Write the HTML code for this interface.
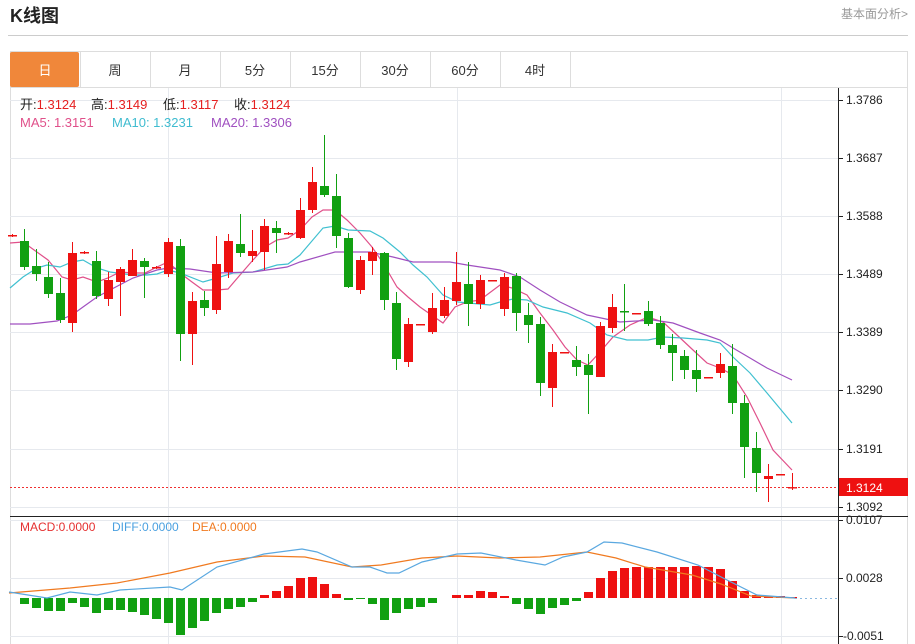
<!DOCTYPE html>
<html><head><meta charset="utf-8"><style>
html,body{margin:0;padding:0;background:#fff;width:915px;height:644px;overflow:hidden;font-family:"Liberation Sans","Noto Sans CJK SC",sans-serif;}
#svg{position:absolute;left:0;top:0}
</style></head><body>
<svg id="svg" width="915" height="644" xmlns="http://www.w3.org/2000/svg" font-family="Liberation Sans, Noto Sans CJK SC, sans-serif">
<text x="10" y="22" font-size="18" font-weight="bold" fill="#222">K线图</text>
<text x="908" y="18" font-size="12" fill="#999" text-anchor="end">基本面分析&gt;</text>
<line x1="8" y1="35.5" x2="908" y2="35.5" stroke="#ccc"/>
<rect x="10.5" y="51.5" width="897" height="600" fill="none" stroke="#ddd"/>
<line x1="10" y1="87.5" x2="908" y2="87.5" stroke="#ddd"/>
<rect x="10" y="52" width="69" height="35" rx="2" fill="#f0873a"/>
<g id="tabs" font-size="13" text-anchor="middle" fill="#333"></g>
<g id="grid"></g>
<g id="ma"></g>
<g id="candles"></g>
<g id="macd"></g>
<line x1="838.5" y1="88" x2="838.5" y2="644" stroke="#222"/>
<line x1="10" y1="516.5" x2="908" y2="516.5" stroke="#222"/>
<line x1="10" y1="487.5" x2="838" y2="487.5" stroke="#f03030" stroke-dasharray="2,2"/>
<rect x="839" y="478" width="69" height="18" fill="#ee1111"/>
<text x="846" y="492" font-size="12" fill="#fff">1.3124</text>
<g id="axis" font-size="12" fill="#222"></g>
<g font-size="13">
<text x="20" y="109"><tspan fill="#222">开:</tspan><tspan fill="#e52020">1.3124</tspan></text>
<text x="91" y="109"><tspan fill="#222">高:</tspan><tspan fill="#e52020">1.3149</tspan></text>
<text x="163" y="109"><tspan fill="#222">低:</tspan><tspan fill="#e52020">1.3117</tspan></text>
<text x="234" y="109"><tspan fill="#222">收:</tspan><tspan fill="#e52020">1.3124</tspan></text>
<text x="20" y="127" fill="#e0508a">MA5: 1.3151</text>
<text x="112" y="127" fill="#40bcd0">MA10: 1.3231</text>
<text x="211" y="127" fill="#a050c0">MA20: 1.3306</text>
</g>
<g font-size="12">
<text x="20" y="531" fill="#e53030">MACD:0.0000</text>
<text x="112" y="531" fill="#4aa0e0">DIFF:0.0000</text>
<text x="192" y="531" fill="#f07a20">DEA:0.0000</text>
</g>
</svg>
<script>
const NS="http://www.w3.org/2000/svg";
function el(p,t,a,txt){const e=document.createElementNS(NS,t);for(const k in a)e.setAttribute(k,a[k]);if(txt!==undefined)e.textContent=txt;document.getElementById(p).appendChild(e);return e;}
const tabs=["日","周","月","5分","15分","30分","60分","4时"];
tabs.forEach((t,i)=>{const x=10+70*i;el("tabs","text",{x:x+35,y:75,fill:i==0?"#fff":"#333"},t);if(i>0)el("tabs","line",{x1:x+0.5,y1:52,x2:x+0.5,y2:87,stroke:"#ddd"});});
el("tabs","line",{x1:570.5,y1:52,x2:570.5,y2:87,stroke:"#ddd"});
[100,158,216,274,332,390,449,507,520,578,636].forEach(y=>el("grid","line",{x1:10,y1:y+.5,x2:838,y2:y+.5,stroke:"#e6e9ee"}));
[168,457,781].forEach(x=>el("grid","line",{x1:x+.5,y1:88,x2:x+.5,y2:644,stroke:"#e6e9ee"}));
[["1.3786",100],["1.3687",158],["1.3588",216],["1.3489",274],["1.3389",332],["1.3290",390],["1.3191",449],["1.3092",507]].forEach(([t,y])=>{el("axis","line",{x1:838,y1:y+.5,x2:843,y2:y+.5,stroke:"#222"});el("axis","text",{x:846,y:y+4},t);});
[["0.0107",520],["0.0028",578],["-0.0051",636]].forEach(([t,y])=>{el("axis","line",{x1:838,y1:y+.5,x2:843,y2:y+.5,stroke:"#222"});el("axis","text",{x:t[0]=="-"?843:846,y:y+4},t);});
const R="#ee1111",G="#11a011";
const C=[[235,236,234,237,R],[241,267,229,270,G],[266,274,249,281,G],[277,294,262,298,G],[293,320,278,323,G],[253,323,242,332,R],[252,253,251,254,R],[261,296,251,299,G],[280,299,272,306,R],[269,282,267,316,R],[260,276,249,276,R],[261,267,258,298,G],[267,268,266,269,R],[242,274,238,277,R],[246,334,239,361,G],[301,334,292,365,R],[300,308,291,316,G],[264,310,236,314,R],[241,272,234,278,R],[244,253,214,257,G],[251,256,230,262,R],[226,252,219,270,R],[228,233,221,253,G],[233,234,232,235,R],[210,238,198,239,R],[182,210,167,213,R],[186,195,135,197,G],[196,236,174,248,G],[238,287,233,288,G],[260,290,256,294,R],[252,261,247,275,R],[253,300,252,310,G],[303,359,292,370,G],[324,362,318,367,R],[324,325,324,325,R],[308,332,293,334,R],[300,316,287,318,R],[282,301,252,305,R],[284,304,262,326,G],[280,304,275,309,R],[280,281,280,281,R],[277,309,273,316,R],[276,313,273,331,G],[315,325,303,343,G],[324,383,317,396,G],[352,388,344,407,R],[352,353,352,353,R],[360,367,346,376,G],[365,375,354,414,G],[326,377,322,377,R],[307,328,294,333,R],[311,312,284,331,G],[313,314,313,314,R],[311,324,301,326,G],[323,345,316,349,G],[345,353,334,381,G],[356,370,350,379,G],[370,379,350,392,G],[377,378,377,378,R],[364,373,353,378,R],[366,403,344,414,G],[403,447,395,478,G],[448,473,432,492,G],[476,479,464,502,R],[474,475,474,475,R],[487,488,473,490,R]];
C.forEach((c,i)=>{const x=12+12*i;const [t,b,h,l,col]=c;
 el("candles","line",{x1:x+.5,y1:h,x2:x+.5,y2:l,stroke:col,"stroke-width":1});
 el("candles","rect",{x:x-4,y:t,width:9,height:Math.max(b-t,1.5),fill:col});});
function pl(pts,col){el("ma","polyline",{points:pts.map(p=>p.join(",")).join(" "),fill:"none",stroke:col,"stroke-width":1.2});}
pl([[10,243],[23,242],[48,260],[62,277],[72,280],[83,277],[97,282],[108,278],[120,272],[133,273],[145,273],[157,267],[168,262],[180,273],[192,282],[203,290],[217,290],[228,289],[240,275],[253,260],[265,247],[277,240],[288,238],[300,230],[312,217],[323,210],[335,210],[347,220],[360,233],[372,247],[383,263],[397,287],[408,297],[420,307],[443,323],[455,307],[467,302],[480,300],[500,285],[512,288],[527,295],[540,313],[553,330],[565,347],[577,360],[588,365],[600,352],[613,337],[630,325],[648,317],[663,322],[677,335],[693,350],[707,363],[720,368],[733,375],[747,397],[760,423],[773,450],[792,470]],"#e0508a");
pl([[10,288],[23,277],[37,268],[47,265],[60,267],[72,262],[83,260],[97,268],[110,272],[133,275],[147,275],[157,274],[168,270],[180,273],[203,282],[217,278],[233,273],[253,272],[277,265],[288,264],[300,255],[323,228],[335,226],[348,230],[370,231],[383,238],[400,252],[413,265],[427,277],[443,295],[458,302],[490,305],[500,302],[513,299],[527,300],[543,307],[567,313],[590,323],[607,335],[627,340],[648,340],[663,337],[683,338],[707,340],[720,343],[733,357],[750,373],[767,393],[792,423]],"#40c0d0");
pl([[10,324],[30,324],[57,321],[72,315],[83,307],[97,297],[110,290],[133,278],[157,270],[168,268],[190,269],[217,273],[253,272],[287,267],[300,262],[335,252],[370,252],[393,257],[413,262],[450,262],[467,265],[500,270],[520,277],[540,290],[560,302],[587,315],[620,322],[653,320],[673,323],[700,333],[720,340],[733,348],[750,358],[767,368],[792,380]],"#a050c0");
const Z=598;
const M=[599,604,608,611,611,603,607,613,610,610,612,615,619,623,635,628,621,613,609,607,602,595,591,586,578,577,584,594,600,599,604,620,613,609,607,603,598.5,595,595,591,592,596,604,609,614,608,605,601,592,578,571,568,567,567,567,567,567,566,567,569,581,591,595,596,596,597];
M.forEach((v,i)=>{const x=12+12*i;if(i==0)return;const col=v<Z?R:G;const t=Math.min(v,Z),h=Math.abs(v-Z);if(h<0.8)return;el("macd","rect",{x:x-4,y:t,width:9,height:h,fill:col});});
el("macd","line",{x1:795,y1:598.5,x2:838,y2:598.5,stroke:"#8ab8e0","stroke-dasharray":"2,3"});
function ml(pts,col){el("macd","polyline",{points:pts.map(p=>p.join(",")).join(" "),fill:"none",stroke:col,"stroke-width":1.2});}
ml([[9,593],[70,588],[117,583],[170,573],[217,562],[264,556],[305,557],[352,567],[381,565],[422,558],[457,556],[499,558],[540,557],[587,552],[616,558],[645,567],[692,575],[721,584],[751,596],[795,598]],"#f07a20");
ml([[9,592],[47,598],[70,592],[97,595],[120,590],[170,587],[182,590],[217,567],[264,554],[302,549],[317,552],[352,567],[370,567],[387,573],[399,573],[422,562],[457,554],[481,553],[516,560],[545,565],[563,557],[587,552],[604,542],[622,543],[657,552],[698,565],[727,580],[757,595],[795,598]],"#5aa8e0");
</script>
</body></html>
